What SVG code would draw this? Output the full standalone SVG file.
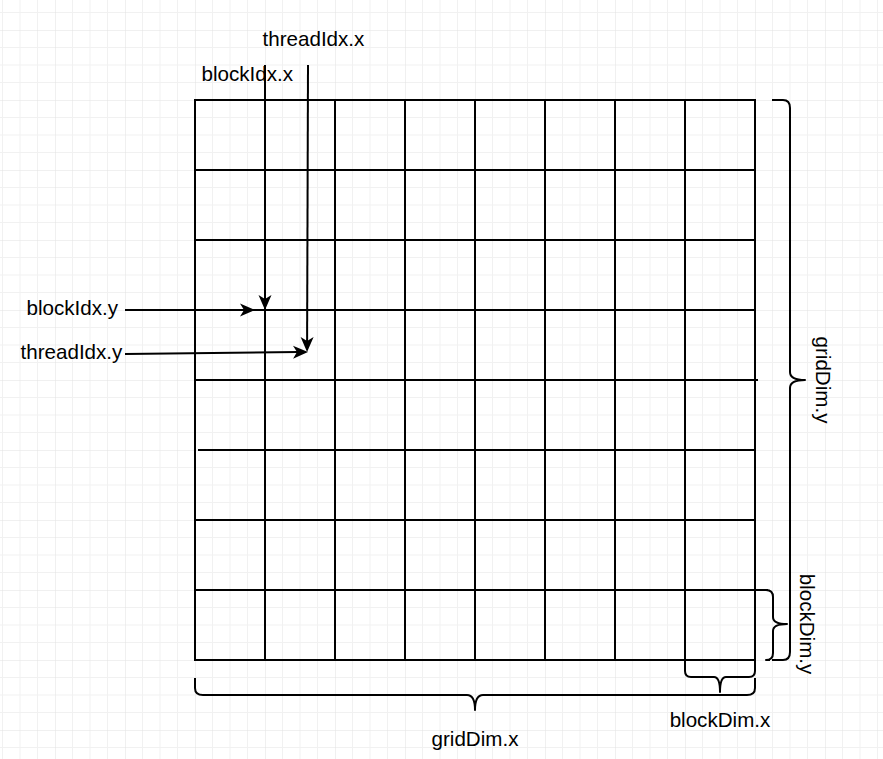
<svg xmlns="http://www.w3.org/2000/svg" width="883" height="759" viewBox="0 0 883 759">
<style>
.ln{stroke:#000;stroke-width:2;fill:none}
.br{stroke:#000;stroke-width:2;fill:none;stroke-linejoin:round}
.t{font-family:"Liberation Sans",Arial,sans-serif;font-size:20.6px;fill:#000}
.mn{stroke:#f1f1f1;stroke-width:1}
.mj{stroke:#e2e2e2;stroke-width:1}
</style>
<defs>
<pattern id="bg" x="55" y="30" width="70" height="70" patternUnits="userSpaceOnUse">
<line class="mn" x1="17.5" y1="0" x2="17.5" y2="70"/>
<line class="mn" x1="35" y1="0" x2="35" y2="70"/>
<line class="mn" x1="52.5" y1="0" x2="52.5" y2="70"/>
<line class="mn" x1="0" y1="17.5" x2="70" y2="17.5"/>
<line class="mn" x1="0" y1="35" x2="70" y2="35"/>
<line class="mn" x1="0" y1="52.5" x2="70" y2="52.5"/>
<line class="mj" x1="0" y1="0" x2="0" y2="70"/>
<line class="mj" x1="0" y1="0" x2="70" y2="0"/>
</pattern>
<marker id="ar" markerUnits="userSpaceOnUse" markerWidth="16" markerHeight="14" viewBox="0 0 16 14" refX="5" refY="7" orient="auto">
<path d="M0,0.5 L15,7 L0,13.5 L4,7 Z" fill="#000"/>
</marker>
</defs>
<rect width="883" height="759" fill="#fff"/>
<rect width="883" height="759" fill="url(#bg)"/>

<g id="grid" class="ln">
<line x1="195" y1="100" x2="195" y2="660"/>
<line x1="265" y1="100" x2="265" y2="660"/>
<line x1="335" y1="100" x2="335" y2="660"/>
<line x1="405" y1="100" x2="405" y2="660"/>
<line x1="475" y1="100" x2="475" y2="660"/>
<line x1="545" y1="100" x2="545" y2="660"/>
<line x1="615" y1="100" x2="615" y2="660"/>
<line x1="685" y1="100" x2="685" y2="660"/>
<line x1="755" y1="100" x2="755" y2="660"/>
<line x1="194" y1="100" x2="756" y2="100"/>
<line x1="194" y1="170" x2="756" y2="170"/>
<line x1="194" y1="240" x2="756" y2="240"/>
<line x1="194" y1="310" x2="756" y2="310"/>
<line x1="194" y1="380" x2="758" y2="380"/>
<line x1="198" y1="450" x2="756" y2="450"/>
<line x1="194" y1="520" x2="756" y2="520"/>
<line x1="194" y1="590" x2="768" y2="590"/>
<line x1="194" y1="660" x2="756" y2="660"/>
</g>

<g id="connectors" class="ln">
<line x1="265" y1="65" x2="265" y2="300" marker-end="url(#ar)"/>
<line x1="308" y1="65" x2="307.1" y2="342" marker-end="url(#ar)"/>
<line x1="125" y1="310" x2="245" y2="310" marker-end="url(#ar)"/>
<line x1="125" y1="354" x2="298" y2="352.1" marker-end="url(#ar)"/>
</g>

<g id="brace-gridDim-y" class="br">
<path d="M772,100 H783 Q790,100 790,108 V372 Q790,380 805,380 Q790,380 790,388 V652 Q790,660 783,660 H772"/>
</g>
<g id="brace-blockDim-y" class="br">
<path d="M766,590 Q773,590 773,597 V617 Q773,624 787,624 Q773,624 773,631 V653 Q773,660 766,660 H770"/>
</g>
<g id="brace-blockDim-x" class="br">
<path d="M685,660 V671 Q685,677 691,677 H714 Q720,677 720,692 Q720,677 726,677 H749 Q755,677 755,671 V660"/>
</g>
<g id="brace-gridDim-x" class="br">
<path d="M195,678 V688 Q195,695 203,695 H467 Q475,695 475,710 Q475,695 483,695 H747 Q755,695 755,688 V678"/>
</g>

<g id="label-threadIdx-x"><text class="t" x="262.5" y="46">threadIdx.x</text></g>
<g id="label-blockIdx-x"><text class="t" x="201.5" y="81">blockIdx.x</text></g>
<g id="label-blockIdx-y"><text class="t" x="26.5" y="314.5">blockIdx.y</text></g>
<g id="label-threadIdx-y"><text class="t" x="20.5" y="358.5">threadIdx.y</text></g>
<g id="label-gridDim-x"><text class="t" x="475" y="746" text-anchor="middle">gridDim.x</text></g>
<g id="label-blockDim-x"><text class="t" x="720" y="727" text-anchor="middle">blockDim.x</text></g>
<g id="label-gridDim-y"><text class="t" transform="translate(816,380) rotate(90)" text-anchor="middle">gridDim.y</text></g>
<g id="label-blockDim-y"><text class="t" transform="translate(800,624) rotate(90)" text-anchor="middle">blockDim.y</text></g>
</svg>
